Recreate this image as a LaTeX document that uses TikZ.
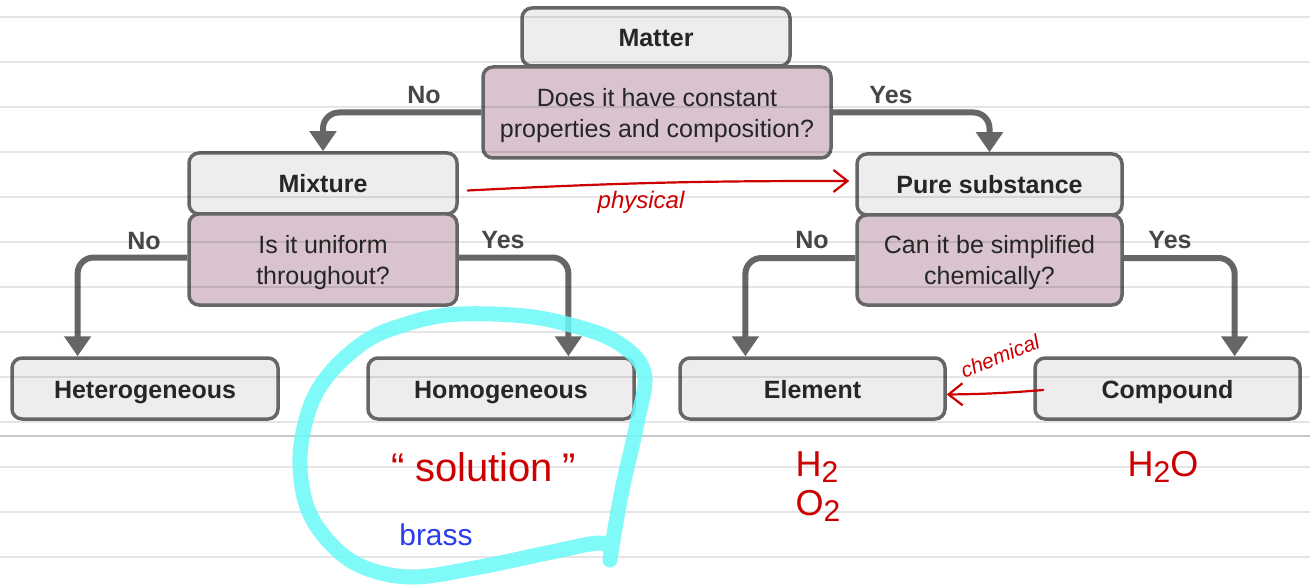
\documentclass[tikz,border=0pt]{standalone}
\usepackage{fontspec}
\setmainfont{Liberation Sans}
\usetikzlibrary{arrows.meta,calc}
\definecolor{boxline}{HTML}{666666}
\definecolor{lightbox}{HTML}{EEECEE}
\definecolor{mauvebox}{HTML}{D8C3CE}
\definecolor{ink}{HTML}{CC0000}
\definecolor{blueink}{HTML}{2A3CF0}
\definecolor{hl}{RGB}{106,249,249}
\definecolor{txt}{HTML}{262626}
\newcommand\inksub[1]{\raisebox{-0.35ex}{\fontsize{15}{15}\selectfont #1}}
\tikzset{
  base/.style={draw=boxline, line width=1.75pt, rounded corners=5pt, text=txt,
    align=center, inner sep=0pt, font=\fontsize{12.5}{15.5}\selectfont},
  titlebox/.style={base, fill=lightbox, text height=9.5pt, text depth=0pt,
    font=\fontsize{12.5}{15.5}\selectfont\bfseries},
  askbox/.style={base, fill=mauvebox, text depth=0pt},
  flow/.style={draw=boxline, line width=3pt, rounded corners=8pt,
    -{Triangle[width=13pt,length=10pt]}},
  answer/.style={font=\fontsize{12.5}{15}\selectfont\bfseries, text=txt!85},
  rule/.style={draw=black, opacity=0.1, line width=0.9pt},
  sepline/.style={draw=black!22, line width=0.8pt},
  redink/.style={draw=ink, line width=1.1pt, line cap=round,
    -{Straight Barb[length=7pt,width=11pt,line width=1.1pt]}},
  hand/.style={text=ink, inner sep=0pt},
  highlight/.style={draw=hl, opacity=0.85, line width=7.5pt, line cap=round, line join=round}
}
\begin{document}
\begin{tikzpicture}[x=0.5pt, y=-0.5pt]
\useasboundingbox (0,0) rectangle (1310,588);
\fill[white] (0,0) rectangle (1310,588);

% boxes
\node[titlebox, minimum width=134pt, minimum height=29pt] (matter) at (656,37) {Matter};
\node[askbox, minimum width=174pt, minimum height=45.5pt] (q1) at (657,112.5)
  {Does it have constant\\properties and composition?};
\node[titlebox, minimum width=134pt, minimum height=30.5pt] (mix) at (323,183.5) {Mixture};
\node[askbox, minimum width=134pt, minimum height=45.5pt] (q2) at (323,259.5)
  {Is it uniform\\throughout?};
\node[titlebox, minimum width=132.5pt, minimum height=30.5pt] (pure) at (989.5,184.5) {Pure substance};
\node[askbox, minimum width=132.5pt, minimum height=45pt] (q3) at (989.5,260)
  {Can it be simplified\\chemically?};
\node[titlebox, minimum width=133pt, minimum height=30.5pt] (het) at (145,388.5) {Heterogeneous};
\node[titlebox, minimum width=133pt, minimum height=30.5pt] (hom) at (501,388.5) {Homogeneous};
\node[titlebox, minimum width=132.5pt, minimum height=30.5pt] (ele) at (812.5,388.5) {Element};
\node[titlebox, minimum width=132.5pt, minimum height=30.5pt] (com) at (1167.5,388.5) {Compound};

% connectors
\draw[flow] (q1.west) -| (mix.north);
\draw[flow] (q1.east) -| (pure.north);
\draw[flow] ([yshift=1pt]q2.west) -| ($(het.north west)!0.25!(het.north east)$);
\draw[flow] ([yshift=1pt]q2.east) -| ($(hom.north west)!0.75!(hom.north east)$);
\draw[flow] ([yshift=1pt]q3.west) -| ($(ele.north west)!0.25!(ele.north east)$);
\draw[flow] ([yshift=1pt]q3.east) -| ($(com.north west)!0.75!(com.north east)$);

% answer labels
\node[answer] (no1) at (424,95) {No};
\node[answer] (yes1) at (891,95) {Yes};
\node[answer] (no2) at (144,241) {No};
\node[answer] (yes2) at (503,240) {Yes};
\node[answer] (no3) at (812,240) {No};
\node[answer] (yes3) at (1170,240) {Yes};

% ruled paper
\foreach \k in {0,...,12} \draw[rule] (0,17+45*\k) -- (1310,17+45*\k);
\draw[sepline] (0,436) -- (1310,436);

% red ink
\draw[redink] ([xshift=4.5pt,yshift=-3.5pt]mix.east) to[bend left=1.5] ([xshift=-3pt,yshift=1.75pt]pure.west);
\node[hand, font=\fontsize{12}{12}\selectfont\itshape] (phys) at (641,202) {physical};
\draw[redink] ([xshift=5pt,yshift=-0.75pt]com.west) to[bend left=2] ([yshift=-3pt]ele.east);
\node[hand, font=\fontsize{10.5}{10.5}\selectfont\itshape, rotate=22] (chem) at (1000,356) {chemical};
\node[hand, font=\fontsize{20}{20}\selectfont] (sol) at (484,467) {“\hspace{5pt}solution\hspace{5pt}”};
\node[hand, text=blueink, font=\fontsize{15}{15}\selectfont] (brass) at (436,535) {brass};
\node[hand, font=\fontsize{18}{18}\selectfont] (h2) at (817,467) {H\inksub{2}};
\node[hand, font=\fontsize{18}{18}\selectfont] (o2) at (818,506) {O\inksub{2}};
\node[hand, font=\fontsize{18}{18}\selectfont] (h2o) at (1163,467) {H\inksub{2}O};

% cyan highlighter loop
\draw[highlight] plot[smooth, tension=0.6] coordinates {
  (610,560) (613,540) (622,490) (637,423) (644,372) (615,341) (563,323)
  (513,315) (447,315) (397,327) (363,343) (330,373) (310,407) (300,457)
  (307,507) (330,543) (363,567) (413,577) (480,567) (547,553) (600,543) (611,553)};
\end{tikzpicture}
\end{document}
